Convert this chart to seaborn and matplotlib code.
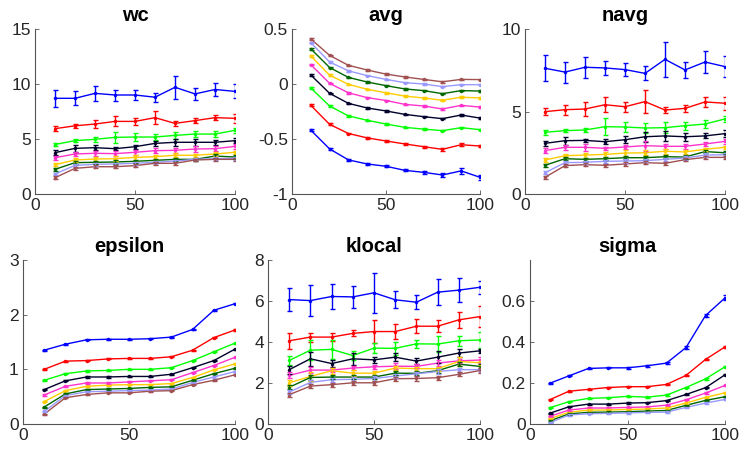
import numpy as np
import pandas as pd
import matplotlib
matplotlib.use("Agg")
import matplotlib.pyplot as plt
import seaborn as sns

X = [10, 20, 30, 40, 50, 60, 70, 80, 90, 100]
SERIES = ["blue", "red", "green", "black", "magenta", "yellow", "dkgreen", "lblue", "brown"]
COLORS = ["#0000ff", "#ff0000", "#00ff00", "#00002b", "#ff33cc",
          "#ffcc00", "#006600", "#9999ff", "#a05050"]

# mean values, one row per series (blue ... brown)
WC = [
    [8.7, 8.7, 9.15, 9.0, 9.0, 8.8, 9.7, 9.1, 9.5, 9.33],
    [5.94, 6.2, 6.36, 6.6, 6.6, 6.94, 6.42, 6.67, 6.94, 6.88],
    [4.5, 4.85, 4.97, 5.15, 5.18, 5.18, 5.33, 5.45, 5.45, 5.79],
    [3.76, 4.15, 4.21, 4.12, 4.3, 4.6, 4.7, 4.7, 4.7, 4.85],
    [3.3, 3.64, 3.7, 3.67, 3.79, 3.94, 3.97, 4.09, 4.12, 4.33],
    [2.67, 3.09, 3.18, 3.21, 3.33, 3.39, 3.52, 3.52, 3.64, 3.79],
    [2.24, 2.85, 2.88, 2.91, 2.97, 3.06, 3.15, 3.15, 3.45, 3.36],
    [1.82, 2.6, 2.7, 2.73, 2.79, 2.88, 3.0, 3.15, 3.21, 3.24],
    [1.48, 2.33, 2.48, 2.48, 2.58, 2.79, 2.79, 3.09, 3.15, 3.15],
]
WC_ERR = [
    [0.8, 0.65, 0.7, 0.5, 0.42, 0.42, 1.05, 0.55, 0.6, 0.64],
    [0.2, 0.2, 0.4, 0.45, 0.35, 0.6, 0.2, 0.2, 0.25, 0.4],
    [0.15, 0.12, 0.2, 0.5, 0.35, 0.25, 0.3, 0.25, 0.25, 0.25],
    [0.25, 0.3, 0.2, 0.15, 0.2, 0.25, 0.3, 0.3, 0.2, 0.2],
    [0.2, 0.2, 0.25, 0.2, 0.2, 0.2, 0.2, 0.25, 0.2, 0.2],
    [0.15, 0.15, 0.15, 0.2, 0.2, 0.2, 0.2, 0.15, 0.15, 0.15],
    [0.15, 0.15, 0.15, 0.15, 0.15, 0.15, 0.15, 0.15, 0.15, 0.15],
    [0.12, 0.12, 0.12, 0.12, 0.12, 0.12, 0.12, 0.12, 0.12, 0.12],
    [0.12, 0.12, 0.12, 0.12, 0.12, 0.12, 0.12, 0.12, 0.12, 0.12],
]

AVG = [
    [-0.42, -0.59, -0.69, -0.727, -0.748, -0.785, -0.803, -0.827, -0.79, -0.848],
    [-0.194, -0.367, -0.45, -0.49, -0.518, -0.545, -0.57, -0.594, -0.552, -0.564],
    [-0.036, -0.2, -0.29, -0.33, -0.364, -0.394, -0.41, -0.424, -0.397, -0.415],
    [0.082, -0.085, -0.176, -0.218, -0.245, -0.276, -0.297, -0.315, -0.282, -0.31],
    [0.176, 0.006, -0.08, -0.124, -0.15, -0.185, -0.2, -0.227, -0.194, -0.21],
    [0.255, 0.08, -0.003, -0.048, -0.08, -0.11, -0.127, -0.148, -0.12, -0.127],
    [0.32, 0.15, 0.06, 0.018, -0.015, -0.045, -0.06, -0.088, -0.06, -0.064],
    [0.376, 0.2, 0.12, 0.076, 0.042, 0.012, 0.0, -0.024, -0.006, -0.006],
    [0.41, 0.26, 0.17, 0.127, 0.09, 0.064, 0.042, 0.02, 0.042, 0.04],
]
AVG_ERR = [
    [0.01, 0.01, 0.01, 0.01, 0.01, 0.01, 0.015, 0.02, 0.025, 0.025],
    [0.008, 0.008, 0.008, 0.008, 0.008, 0.008, 0.008, 0.012, 0.012, 0.012],
] + [[0.007] * 10] * 7

NAVG = [
    [7.62, 7.39, 7.68, 7.64, 7.54, 7.31, 8.16, 7.52, 8.0, 7.72],
    [4.99, 5.11, 5.15, 5.41, 5.29, 5.6, 5.09, 5.19, 5.58, 5.5],
    [3.74, 3.84, 3.88, 4.08, 4.06, 4.0, 4.02, 4.14, 4.24, 4.55],
    [3.07, 3.23, 3.25, 3.17, 3.29, 3.47, 3.52, 3.47, 3.52, 3.66],
    [2.63, 2.83, 2.83, 2.77, 2.85, 2.93, 2.89, 2.89, 3.03, 3.19],
    [2.06, 2.32, 2.36, 2.4, 2.48, 2.5, 2.59, 2.55, 2.71, 2.83],
    [1.74, 2.14, 2.1, 2.14, 2.2, 2.2, 2.26, 2.24, 2.57, 2.5],
    [1.29, 1.9, 1.92, 1.98, 2.0, 2.02, 2.1, 2.18, 2.36, 2.38],
    [1.01, 1.72, 1.78, 1.74, 1.82, 1.9, 1.86, 2.08, 2.22, 2.22],
]
NAVG_ERR = [
    [0.8, 0.64, 0.64, 0.4, 0.4, 0.43, 1.05, 0.48, 0.65, 0.62],
    [0.2, 0.3, 0.45, 0.45, 0.3, 0.7, 0.2, 0.2, 0.3, 0.4],
    [0.15, 0.1, 0.15, 0.5, 0.3, 0.3, 0.35, 0.25, 0.25, 0.2],
    [0.15, 0.25, 0.1, 0.15, 0.2, 0.3, 0.3, 0.25, 0.15, 0.2],
    [0.15, 0.15, 0.2, 0.1, 0.15, 0.3, 0.15, 0.15, 0.15, 0.15],
    [0.15, 0.1, 0.15, 0.15, 0.2, 0.15, 0.15, 0.1, 0.1, 0.1],
    [0.1, 0.1, 0.1, 0.1, 0.1, 0.1, 0.1, 0.1, 0.1, 0.1],
    [0.1, 0.1, 0.1, 0.1, 0.1, 0.1, 0.1, 0.1, 0.1, 0.1],
    [0.1, 0.1, 0.1, 0.1, 0.1, 0.1, 0.1, 0.1, 0.1, 0.1],
]

EPSILON = [
    [1.35, 1.46, 1.54, 1.55, 1.55, 1.56, 1.59, 1.73, 2.08, 2.2],
    [1.0, 1.15, 1.16, 1.19, 1.2, 1.2, 1.23, 1.35, 1.58, 1.72],
    [0.8, 0.92, 0.97, 0.98, 1.0, 1.0, 1.03, 1.16, 1.32, 1.48],
    [0.63, 0.79, 0.86, 0.86, 0.87, 0.87, 0.91, 1.03, 1.16, 1.37],
    [0.53, 0.69, 0.75, 0.75, 0.77, 0.79, 0.81, 0.94, 1.07, 1.22],
    [0.41, 0.61, 0.69, 0.71, 0.72, 0.72, 0.74, 0.85, 0.99, 1.1],
    [0.31, 0.55, 0.63, 0.64, 0.65, 0.67, 0.68, 0.8, 0.92, 1.02],
    [0.23, 0.52, 0.59, 0.6, 0.61, 0.62, 0.64, 0.76, 0.86, 0.96],
    [0.18, 0.48, 0.54, 0.57, 0.57, 0.6, 0.61, 0.72, 0.8, 0.9],
]
EPSILON_ERR = [[0.01] * 10] * 9

KLOCAL = [
    [6.07, 6.02, 6.22, 6.2, 6.4, 6.06, 5.94, 6.43, 6.53, 6.67],
    [4.06, 4.24, 4.24, 4.42, 4.51, 4.51, 4.77, 4.77, 5.08, 5.24],
    [3.1, 3.6, 3.64, 3.34, 3.7, 3.69, 3.91, 3.9, 4.06, 4.1],
    [2.65, 3.18, 2.95, 3.18, 3.13, 3.26, 3.07, 3.26, 3.46, 3.57],
    [2.37, 2.63, 2.63, 2.73, 2.79, 2.82, 2.81, 2.97, 3.08, 3.12],
    [2.01, 2.32, 2.6, 2.48, 2.48, 2.73, 2.7, 2.7, 3.05, 2.99],
    [1.79, 2.27, 2.29, 2.29, 2.29, 2.48, 2.47, 2.6, 2.92, 2.81],
    [1.56, 2.03, 2.16, 2.18, 2.22, 2.34, 2.45, 2.56, 2.65, 2.65],
    [1.43, 1.85, 1.92, 2.01, 2.01, 2.21, 2.22, 2.26, 2.42, 2.61],
]
KLOCAL_ERR = [
    [0.55, 0.74, 0.6, 0.55, 0.98, 0.42, 0.33, 0.62, 0.58, 0.33],
    [0.4, 0.22, 0.2, 0.15, 0.55, 0.35, 0.35, 0.3, 0.4, 0.53],
    [0.2, 0.5, 0.45, 0.2, 0.25, 0.3, 0.2, 0.4, 0.25, 0.4],
    [0.2, 0.35, 0.15, 0.3, 0.15, 0.2, 0.15, 0.3, 0.2, 0.1],
    [0.15, 0.15, 0.1, 0.1, 0.1, 0.15, 0.1, 0.15, 0.1, 0.15],
    [0.15, 0.2, 0.15, 0.15, 0.1, 0.1, 0.1, 0.1, 0.2, 0.1],
    [0.1, 0.1, 0.1, 0.1, 0.1, 0.1, 0.1, 0.1, 0.1, 0.1],
    [0.1, 0.1, 0.1, 0.1, 0.1, 0.1, 0.1, 0.1, 0.1, 0.1],
    [0.1, 0.1, 0.1, 0.1, 0.1, 0.1, 0.1, 0.1, 0.1, 0.1],
]

# brown is hidden under the light blue line in this panel
SIGMA = [
    [0.198, 0.235, 0.271, 0.274, 0.274, 0.284, 0.297, 0.373, 0.529, 0.615],
    [0.118, 0.16, 0.169, 0.178, 0.182, 0.182, 0.193, 0.237, 0.315, 0.376],
    [0.079, 0.109, 0.125, 0.128, 0.135, 0.131, 0.141, 0.178, 0.22, 0.279],
    [0.052, 0.084, 0.097, 0.097, 0.102, 0.104, 0.114, 0.144, 0.177, 0.24],
    [0.037, 0.068, 0.078, 0.078, 0.081, 0.083, 0.092, 0.118, 0.151, 0.188],
    [0.026, 0.057, 0.068, 0.068, 0.071, 0.073, 0.078, 0.102, 0.13, 0.152],
    [0.015, 0.049, 0.057, 0.058, 0.06, 0.063, 0.066, 0.091, 0.115, 0.133],
    [0.006, 0.044, 0.05, 0.052, 0.054, 0.057, 0.058, 0.081, 0.102, 0.12],
]
SIGMA_ERR = [
    [0.003, 0.003, 0.004, 0.003, 0.004, 0.004, 0.004, 0.008, 0.008, 0.012],
] + [[0.003] * 10] * 7

PANELS = [
    ("wc", WC, WC_ERR, (0, 15), [0, 5, 10, 15]),
    ("avg", AVG, AVG_ERR, (-1, 0.5), [-1, -0.5, 0, 0.5]),
    ("navg", NAVG, NAVG_ERR, (0, 10), [0, 5, 10]),
    ("epsilon", EPSILON, EPSILON_ERR, (0, 3), [0, 1, 2, 3]),
    ("klocal", KLOCAL, KLOCAL_ERR, (0, 8), [0, 2, 4, 6, 8]),
    ("sigma", SIGMA, SIGMA_ERR, (0, 0.8), [0, 0.2, 0.4, 0.6]),
]

# axes boxes in pixels (left, right, top, bottom)
W, H = 742, 454
BOXES = [
    (35, 235, 29, 194), (292, 480, 29, 194), (525, 725, 29, 194),
    (23, 235, 260, 424), (268, 480, 260, 424), (530, 725, 260, 424),
]

sns.set_theme(style="ticks")
plt.rcParams["font.family"] = ["Liberation Sans", "DejaVu Sans"]
plt.rcParams["axes.unicode_minus"] = False

fig = plt.figure(figsize=(W / 100, H / 100), dpi=100)

for (title, means, errs, ylim, yticks), (l, r, t, b) in zip(PANELS, BOXES):
    ax = fig.add_axes([l / W, 1 - b / H, (r - l) / W, (b - t) / H])
    n = len(means)
    df = pd.DataFrame({
        "x": X * n,
        "y": [v for row in means for v in row],
        "series": [s for s in SERIES[:n] for _ in X],
    })
    sns.lineplot(data=df, x="x", y="y", hue="series",
                 palette=dict(zip(SERIES, COLORS)), marker="o",
                 markersize=2.5, markeredgewidth=0, linewidth=1.0,
                 legend=False, ax=ax, sort=False)
    for row, err, c in zip(means, errs, COLORS):
        ax.errorbar(X, row, yerr=err, fmt="none", ecolor=c,
                    elinewidth=1.0, capsize=1.8, capthick=1.0)
    ax.set_xlim(0, 100)
    ax.set_ylim(*ylim)
    ax.set_xticks([0, 50, 100])
    ax.set_yticks(yticks)
    ax.set_yticklabels(["%g" % v for v in yticks])
    ax.set_xlabel("")
    ax.set_ylabel("")
    ax.set_title(title, fontsize=14.5, fontweight="bold", color="black", pad=6)
    sns.despine(ax=ax)
    for sp in ("left", "bottom"):
        ax.spines[sp].set_color("#555555")
        ax.spines[sp].set_linewidth(0.8)
    ax.tick_params(direction="in", length=3, width=0.6, colors="#555555",
                   labelcolor="#262626", labelsize=12.5, pad=3)

fig.savefig("out.png", dpi=100)
